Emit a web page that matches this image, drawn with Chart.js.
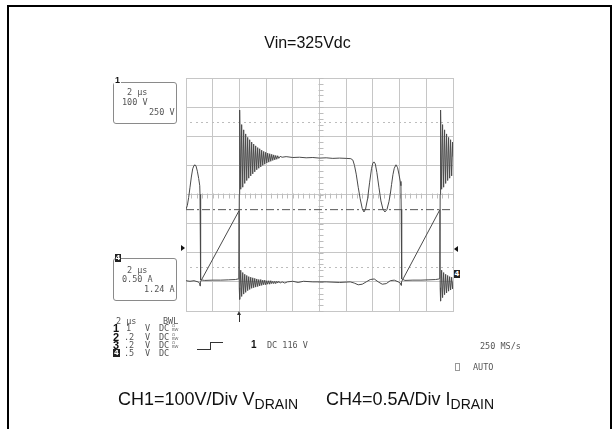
<!DOCTYPE html>
<html>
<head>
<meta charset="utf-8">
<script src="https://cdn.jsdelivr.net/npm/chart.js@4"></script>
<style>
  html, body { margin: 0; padding: 0; background: #fff; }
  #page { position: relative; width: 615px; height: 429px; overflow: hidden; font-family: "Liberation Sans", Arial, sans-serif; }
  #frame { position: absolute; left: 7px; top: 5px; width: 601px; height: 440px; border: 2px solid #000; }
  #scope { position: absolute; left: 0; top: 0; }
  .t { position: absolute; white-space: nowrap; line-height: 1; }
  .mono { font-family: "DejaVu Sans Mono", monospace; font-size: 8.5px; color: #555; }
  .big { font-family: "Liberation Sans", Arial, sans-serif; font-size: 11px; font-weight: bold; color: #111; }
  .tiny { font-family: "DejaVu Sans", sans-serif; font-size: 4px; color: #666; line-height: 4px; }
  .box { position: absolute; border: 1px solid #8a8a8a; border-radius: 3px; }
  .inv { position: absolute; background: #222; color: #fff; font: bold 7px "DejaVu Sans", sans-serif; line-height: 8px; text-align: center; width: 6px; height: 8px; }
  .line { position: absolute; background: #333; }
  .tri-r { position: absolute; width: 0; height: 0; border-top: 3px solid transparent; border-bottom: 3px solid transparent; border-left: 4px solid #111; }
  .tri-l { position: absolute; width: 0; height: 0; border-top: 3px solid transparent; border-bottom: 3px solid transparent; border-right: 4px solid #111; }
  .tri-u { position: absolute; width: 0; height: 0; border-left: 2px solid transparent; border-right: 2px solid transparent; border-bottom: 4px solid #333; }
  .label { font-size: 18px; color: #111; }
  .label sub { font-size: 14px; vertical-align: -4px; line-height: 0; }
</style>
</head>
<body>
<div id="page">
  <div id="frame"></div>
  <canvas id="scope" width="615" height="429"></canvas>

  <div class="t" style="left:0; width:615px; text-align:center; top:35px; font-size:16px; color:#111;">Vin=325Vdc</div>

  <!-- channel 1 readout box -->
  <div class="box" style="left:113px; top:82px; width:62px; height:40px;"></div>
  <div class="t big" style="left:114px; top:76px; font-size:9px; background:#fff; padding:0 1px;">1</div>
  <div class="t mono" style="left:127px; top:88px;">2 µs</div>
  <div class="t mono" style="left:122px; top:98px;">100 V</div>
  <div class="t mono" style="left:149px; top:108px;">250 V</div>

  <!-- channel 4 readout box -->
  <div class="box" style="left:113px; top:258px; width:62px; height:41px;"></div>
  <div class="inv" style="left:115px; top:254px;">4</div>
  <div class="t mono" style="left:127px; top:266px;">2 µs</div>
  <div class="t mono" style="left:122px; top:275px;">0.50 A</div>
  <div class="t mono" style="left:144px; top:285px;">1.24 A</div>

  <!-- graticule side markers -->
  <div class="tri-r" style="left:181px; top:245px;"></div>
  <div class="tri-l" style="left:454px; top:246px;"></div>
  <div class="inv" style="left:454px; top:270px;">4</div>
  <div class="line" style="left:239px; top:314px; width:1px; height:8px;"></div>
  <div class="tri-u" style="left:237px; top:311px;"></div>

  <!-- settings readout -->
  <div class="t mono" style="left:116px; top:317px;">2 µs</div>
  <div class="t mono" style="left:163px; top:317px;">BWL</div>

  <div class="t big" style="left:113px; top:323px;">1</div>
  <div class="t mono" style="left:126px; top:324px;">1</div>
  <div class="t mono" style="left:145px; top:324px;">V</div>
  <div class="t mono" style="left:159px; top:324px;">DC</div>
  <div class="t tiny" style="left:172px; top:324px;">Ω<br>BW</div>

  <div class="t big" style="left:113px; top:332px;">2</div>
  <div class="t mono" style="left:124px; top:333px;">.2</div>
  <div class="t mono" style="left:145px; top:333px;">V</div>
  <div class="t mono" style="left:159px; top:333px;">DC</div>
  <div class="t tiny" style="left:172px; top:333px;">Ω<br>BW</div>

  <div class="t big" style="left:113px; top:340px;">3</div>
  <div class="t mono" style="left:124px; top:341px;">.2</div>
  <div class="t mono" style="left:145px; top:341px;">V</div>
  <div class="t mono" style="left:159px; top:341px;">DC</div>
  <div class="t tiny" style="left:172px; top:341px;">Ω<br>BW</div>

  <div class="inv" style="left:113px; top:349px; width:7px;">4</div>
  <div class="t mono" style="left:124px; top:349px;">.5</div>
  <div class="t mono" style="left:145px; top:349px;">V</div>
  <div class="t mono" style="left:159px; top:349px;">DC</div>

  <!-- trigger readout -->
  <div class="line" style="left:197px; top:349px; width:13px; height:1px;"></div>
  <div class="line" style="left:210px; top:342px; width:1px; height:8px;"></div>
  <div class="line" style="left:210px; top:342px; width:13px; height:1px;"></div>
  <div class="t big" style="left:251px; top:340px; font-size:10px;">1</div>
  <div class="t mono" style="left:267px; top:341px;">DC 116 V</div>

  <div class="t mono" style="left:480px; top:342px;">250 MS/s</div>
  <div style="position:absolute; left:455px; top:363px; width:3px; height:6px; border:1px solid #999;"></div>
  <div class="t mono" style="left:473px; top:363px;">AUTO</div>

  <div class="t label" style="left:118px; top:390px;">CH1=100V/Div V<sub>DRAIN</sub></div>
  <div class="t label" style="left:326px; top:390px;">CH4=0.5A/Div I<sub>DRAIN</sub></div>
</div>

<script>
// CH1 drain voltage, time in microseconds (2 us/div), volts (100 V/div)
const ch1Time = [
  0.00, 0.10, 0.20, 0.30, 0.40, 0.50, 0.60, 0.67, 0.75, 0.85, 0.95, 1.03, 1.05, 1.07, 1.09, 1.12,
  1.40, 2.00, 2.60, 3.20, 3.70, 3.90, 3.96,
  3.99, 4.02, 4.10, 4.17, 4.25, 4.32, 4.40, 4.47, 4.55, 4.62, 4.70, 4.77, 4.85, 4.92, 5.00, 5.07,
  5.15, 5.22, 5.30, 5.37, 5.45, 5.52, 5.60, 5.67, 5.75, 5.82, 5.90, 5.97, 6.05, 6.12, 6.20, 6.27,
  6.35, 6.42, 6.50, 6.57, 6.65, 6.72, 6.80, 6.87, 6.95, 7.05, 7.20,
  7.50, 8.00, 8.50, 9.00, 9.50, 10.00, 10.50, 11.00, 11.50, 12.00, 12.35,
  12.50, 12.62, 12.75, 12.90, 13.05, 13.20, 13.33, 13.45, 13.60, 13.75, 13.90, 14.00, 14.08, 14.18,
  14.30, 14.45, 14.60, 14.75, 14.90, 15.05, 15.20, 15.30, 15.40, 15.50, 15.60, 15.73, 15.85, 15.95,
  16.05, 16.10, 16.12, 16.14, 16.17,
  16.40, 17.00, 17.60, 18.20, 18.70, 18.95, 19.01,
  19.04, 19.07, 19.15, 19.22, 19.30, 19.37, 19.45, 19.52, 19.60, 19.67, 19.75, 19.82, 19.90, 19.97, 20.00,
];
const ch1Volts = [
  250, 262, 290, 325, 360, 388, 400, 402, 398, 380, 355, 330, 300, 150, 30, 7,
  5, 6, 6, 7, 8, 10, 12,
  300, 590, 318, 540, 325, 522, 338, 508, 348, 496, 356, 488, 364, 480, 371, 473,
  378, 467, 385, 461, 390, 457, 395, 452, 400, 448, 404, 445, 408, 442, 411, 440,
  414, 438, 417, 436, 419, 434, 421, 433, 424, 431, 428,
  430, 427, 428, 426, 427, 425, 426, 424, 425, 424, 423,
  418, 400, 370, 325, 285, 252, 240, 250, 285, 340, 390, 408, 412, 405,
  375, 325, 278, 250, 240, 248, 275, 300, 335, 368, 390, 402, 392, 370,
  345, 330, 250, 100, 10,
  5, 6, 6, 7, 8, 10, 12,
  300, 590, 318, 540, 325, 522, 338, 508, 348, 496, 356, 488, 364, 480, 430,
];

// CH4 drain current, amps (0.5 A/div)
const ch4Time = [
  0.00, 0.30, 0.60, 0.90, 1.02, 1.05, 1.08,
  3.97, 3.99, 4.02, 4.10, 4.17, 4.25, 4.32, 4.40, 4.47, 4.55, 4.62, 4.70, 4.77, 4.85, 4.92, 5.00,
  5.07, 5.15, 5.22, 5.30, 5.37, 5.45, 5.52, 5.60, 5.67, 5.75, 5.82, 5.90, 5.97, 6.05, 6.12, 6.20,
  6.27, 6.35, 6.42, 6.50, 6.57, 6.65, 6.72, 6.80, 6.87, 6.95, 7.05, 7.20, 7.40, 7.60,
  8.00, 8.40, 8.80, 9.50, 10.50, 11.50, 12.30, 12.60, 12.90, 13.20, 13.50, 13.80, 14.10, 14.40,
  14.70, 15.00, 15.30, 15.60, 15.90, 16.05, 16.11, 16.14,
  19.02, 19.04, 19.07, 19.15, 19.22, 19.30, 19.37, 19.45, 19.52, 19.60, 19.67, 19.75, 19.82, 19.90,
  19.97, 20.00,
];
const ch4Amps = [
  0.02, 0.01, 0.02, 0.00, -0.02, -0.07, 0.00,
  1.22, -0.10, -0.30, 0.20, -0.25, 0.16, -0.21, 0.13, -0.18, 0.11, -0.15, 0.09, -0.13, 0.08, -0.11, 0.07,
  -0.10, 0.06, -0.09, 0.05, -0.08, 0.04, -0.07, 0.04, -0.06, 0.03, -0.05, 0.03, -0.05, 0.02, -0.04, 0.02,
  -0.04, 0.02, -0.03, 0.01, -0.03, 0.01, -0.03, 0.01, -0.02, 0.01, -0.02, 0.00, -0.02, 0.00,
  0.01, -0.01, 0.01, 0.00, 0.00, -0.01, 0.00, -0.02, -0.05, -0.04, 0.00, 0.04, 0.05, 0.00,
  -0.04, -0.03, 0.02, 0.03, 0.00, -0.02, -0.06, 0.00,
  1.24, -0.10, -0.33, 0.20, -0.27, 0.16, -0.22, 0.13, -0.19, 0.11, -0.16, 0.09, -0.14, 0.08,
  -0.12, 0.00,
];

// cursor level on CH4 and the scope screen ranges
const cursorAmps = 1.24;
const timeRange = [0, 20];
const voltRange = [-100, 700];
const ampRange = [-0.5, 3.5];
const riseLevels = [550, 50];

function toPoints(xs, ys) {
  return xs.map((x, i) => ({ x: x, y: ys[i] }));
}

const graticuleExtras = {
  id: "graticuleExtras",
  beforeDatasetsDraw(chart) {
    const { ctx, scales } = chart;
    const xs = scales.x;
    const ys = scales.y;
    const cx = Math.round(xs.getPixelForValue(10)) + 0.5;
    const cy = Math.round(ys.getPixelForValue(300)) + 0.5;
    ctx.save();
    ctx.strokeStyle = "#bdbdbd";
    ctx.fillStyle = "#bdbdbd";
    ctx.lineWidth = 1;
    ctx.beginPath();
    for (let t = timeRange[0]; t <= timeRange[1] + 0.001; t += 0.4) {
      const px = Math.round(xs.getPixelForValue(t)) + 0.5;
      ctx.moveTo(px, cy - 2);
      ctx.lineTo(px, cy + 3);
    }
    for (let v = voltRange[0]; v <= voltRange[1] + 0.001; v += 20) {
      const py = Math.round(ys.getPixelForValue(v)) + 0.5;
      ctx.moveTo(cx - 2, py);
      ctx.lineTo(cx + 3, py);
    }
    ctx.stroke();
    for (const level of riseLevels) {
      const py = Math.round(ys.getPixelForValue(level));
      for (let t = timeRange[0] + 0.4; t < timeRange[1]; t += 0.4) {
        const px = Math.round(xs.getPixelForValue(t));
        ctx.fillRect(px - 1, py, 2, 1);
      }
    }
    ctx.restore();
  },
};

const gridStyle = { color: "#c6c6c6", lineWidth: 1, drawTicks: false };

new Chart(document.getElementById("scope"), {
  type: "line",
  data: {
    datasets: [
      {
        label: "CH1 VDRAIN",
        data: toPoints(ch1Time, ch1Volts),
        yAxisID: "y",
        borderColor: "#4a4a4a",
        borderWidth: 1,
        pointRadius: 0,
        tension: 0,
      },
      {
        label: "CH4 IDRAIN",
        data: toPoints(ch4Time, ch4Amps),
        yAxisID: "y4",
        borderColor: "#4a4a4a",
        borderWidth: 1,
        pointRadius: 0,
        tension: 0,
      },
      {
        label: "Cursor",
        data: toPoints(timeRange, [cursorAmps, cursorAmps]),
        yAxisID: "y4",
        borderColor: "#555",
        borderWidth: 1,
        borderDash: [8, 3, 2, 3],
        pointRadius: 0,
      },
    ],
  },
  options: {
    responsive: false,
    animation: false,
    devicePixelRatio: 1,
    layout: { padding: { left: 186, top: 78, right: 162, bottom: 118 } },
    plugins: {
      legend: { display: false },
      tooltip: { enabled: false },
    },
    scales: {
      x: {
        type: "linear",
        min: timeRange[0],
        max: timeRange[1],
        ticks: { display: false, stepSize: 2 },
        grid: gridStyle,
        border: { color: "#c6c6c6" },
      },
      y: {
        min: voltRange[0],
        max: voltRange[1],
        ticks: { display: false, stepSize: 100 },
        grid: gridStyle,
        border: { color: "#c6c6c6" },
      },
      y4: {
        display: false,
        min: ampRange[0],
        max: ampRange[1],
      },
    },
  },
  plugins: [graticuleExtras],
});
</script>
</body>
</html>
